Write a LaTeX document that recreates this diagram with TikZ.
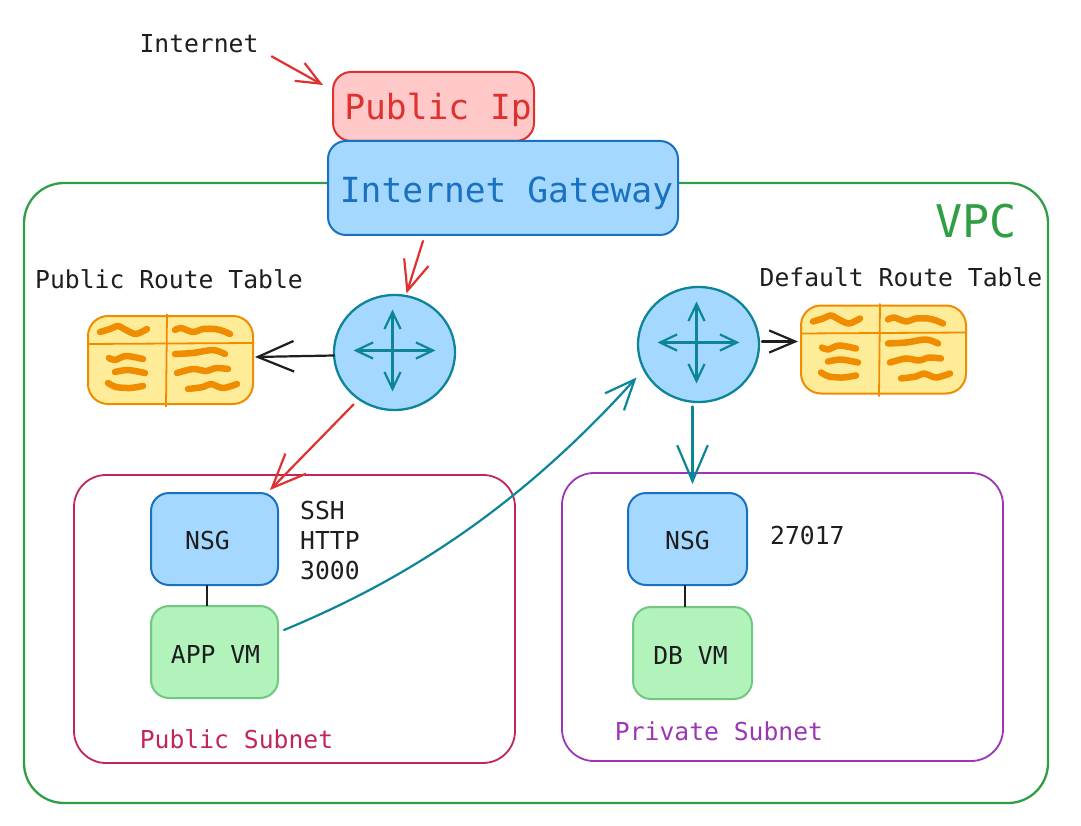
\documentclass[tikz,border=0pt]{standalone}
\usepackage{fontspec}
\setmonofont{DejaVu Sans Mono}
\usetikzlibrary{arrows.meta}
\usetikzlibrary{shapes.geometric}
\definecolor{ink}{HTML}{1E1E1E}
\definecolor{redline}{HTML}{E03131}
\definecolor{redfill}{HTML}{FFC9C9}
\definecolor{blueline}{HTML}{1971C2}
\definecolor{bluefill}{HTML}{A5D8FF}
\definecolor{greenline}{HTML}{2F9E44}
\definecolor{greenfill}{HTML}{B2F2BB}
\definecolor{tealline}{HTML}{0C8599}
\definecolor{orangeline}{HTML}{F08C00}
\definecolor{orangefill}{HTML}{FFEC99}
\definecolor{pinkline}{HTML}{C2255C}
\definecolor{purpleline}{HTML}{9C36B5}
\newcommand{\nudge}[3]{\raisebox{#2}[\height][\depth]{\hspace{#1}#3}}
\tikzset{
 box/.style={draw, rounded corners=#1, line width=2pt, outer sep=0pt, inner sep=0pt, font=\ttfamily\fontsize{24.7}{30}\selectfont, text=ink},
 box/.default=18pt,
 label/.style={inner sep=0pt, align=left, text=ink, font=\ttfamily\fontsize{24.7}{30}\selectfont},
 bigbox/.style={box=18pt, font=\ttfamily\fontsize{34.6}{40}\selectfont},
 nsgbox/.style={box, draw=blueline, fill=bluefill, minimum height=92pt},
 vmbox/.style={box, draw=greenfill!50!greenline, fill=greenfill, minimum height=92pt},
 tablebox/.style={box=20pt, draw=orangeline, fill=orangefill, minimum width=165pt, minimum height=88pt},
 router/.style={ellipse, draw=tealline, fill=bluefill, line width=2.3pt, inner sep=0pt, outer sep=0pt, minimum width=121pt, minimum height=115pt},
 conn/.style={line width=2.2pt, line cap=round, -{Straight Barb[length=#1pt, width'=0pt 0.85]}},
 conn/.default=24,
 cross/.style={tealline, line width=2.2pt, line cap=round, {Straight Barb[length=17pt, width'=0pt 0.95]}-{Straight Barb[length=17pt, width'=0pt 0.95]}},
 scribble/.style={orangeline, line width=6.5pt, line cap=round, line join=round},
}
\begin{document}
\begin{tikzpicture}[x=1pt, y=-1pt]
\useasboundingbox (0,0) rectangle (1081,826);
\draw[greenline, line width=2.3pt, rounded corners=40pt] (24,183) rectangle (1048,803);
\draw[pinkline, line width=1.8pt, rounded corners=32pt] (74,475) rectangle (515,763);
\draw[purpleline, line width=1.8pt, rounded corners=32pt] (562,473) rectangle (1003,761);

\node[label] (internet) at (199,44) {Internet};
\node[bigbox, draw=redline, fill=redfill, text=redline, minimum width=201pt, minimum height=69pt] (publicip) at (433.5,106.5) {\nudge{9pt}{-3pt}{Public Ip}};
\node[bigbox, draw=blueline, fill=bluefill, text=blueline, minimum width=350pt, minimum height=94pt] (gateway) at (503,188) {\nudge{7pt}{-5pt}{Internet Gateway}};
\node[text=greenline, inner sep=0pt, font=\ttfamily\fontsize{45}{50}\selectfont] (vpc) at (976,221) {VPC};

\node[label] (pubtablelabel) at (169,279) {Public Route Table};
\node[label] (deftablelabel) at (901,277) {Default Route Table};
\node[tablebox] (pubtable) at (170.5,360) {};
\node[tablebox] (deftable) at (883.5,349.5) {};
\node[router] (pubrouter) at (394.5,352.5) {};
\node[router] (defrouter) at (698.5,344.5) {};

\foreach \t in {pubtable, deftable} {
 \begin{scope}[shift={(\t.north west)}]
 \draw[orangeline, line width=1.8pt] (0,28) -- (165,27);
 \draw[orangeline, line width=1.8pt] (79,-2) -- (78,91);
 \draw[scribble] plot[smooth] coordinates {(12,16) (22,13) (30,10) (38,14) (48,18) (59,13)};
 \draw[scribble] plot[smooth] coordinates {(87,14) (93,12) (105,16) (115,13) (127,13) (135,15) (142,18)};
 \draw[scribble] plot[smooth] coordinates {(21,42) (27,44) (38,40) (55,43)};
 \draw[scribble] plot[smooth] coordinates {(27,56) (40,54) (57,57)};
 \draw[scribble] plot[smooth] coordinates {(20,67) (28,71) (42,72) (55,70)};
 \draw[scribble] plot[smooth] coordinates {(87,38) (105,37) (125,34) (137,38)};
 \draw[scribble] plot[smooth] coordinates {(89,57) (105,53) (118,55) (128,52) (140,53)};
 \draw[scribble] plot[smooth] coordinates {(100,73) (115,71) (123,68) (135,72) (149,68)};
 \end{scope}
}
\foreach \r in {pubrouter, defrouter} {
 \draw[cross] ([shift={(-41,-2)}]\r.center) -- ([shift={(41,-2)}]\r.center);
 \draw[cross] ([shift={(-2,-43)}]\r.center) -- ([shift={(-2,39)}]\r.center);
}

\node[nsgbox, minimum width=127pt] (pubnsg) at (214.5,539) {\nudge{-14pt}{-2pt}{NSG}};
\node[vmbox, minimum width=127pt] (appvm) at (214.5,652) {\nudge{2pt}{-2pt}{APP VM}};
\node[nsgbox, minimum width=119pt] (defnsg) at (687.5,539) {\nudge{0pt}{-2pt}{NSG}};
\node[vmbox, minimum width=119pt] (dbvm) at (692.5,653) {\nudge{-4pt}{-2pt}{DB VM}};
\node[label, anchor=west] (pubports) at (300,541) {SSH\\HTTP\\3000};
\node[label, anchor=west] (defports) at (770,536) {27017};
\node[label, text=pinkline] (pubsubnet) at (236.5,739) {Public Subnet};
\node[label, text=purpleline] (defsubnet) at (719,731) {Private Subnet};

\draw[conn, redline] ([shift={(13,3)}]internet.south east) -- ([shift={(-10,13)}]publicip.north west);
\draw[conn=30, redline] ([shift={(-80,6)}]gateway.south) -- ([shift={(12,-59)}]pubrouter.center);
\draw[conn=36, ink] ([shift={(0,3)}]pubrouter.west) -- ([shift={(2,-3)}]pubtable.east);
\draw[conn=34, redline] ([shift={(-41,52)}]pubrouter.center) -- ([shift={(-8,-3)}]pubnsg.north east);
\draw[conn=26, ink] ([shift={(3,-3)}]defrouter.east) -- ([shift={(-3,-8)}]deftable.west);
\draw[conn=36, tealline] ([shift={(-6,62)}]defrouter.center) -- ([shift={(5,-9)}]defnsg.north);
\draw[conn=30, tealline] ([shift={(6,-22)}]appvm.east) .. controls (400,582) and (515,512) .. ([shift={(-62,33)}]defrouter.center);
\draw[ink, line width=1.6pt] ([xshift=-7.5pt]pubnsg.south) -- ([xshift=-7.5pt]appvm.north);
\draw[ink, line width=1.6pt] ([xshift=-2.5pt]defnsg.south) -- ([xshift=-7.5pt]dbvm.north);
\end{tikzpicture}
\end{document}
